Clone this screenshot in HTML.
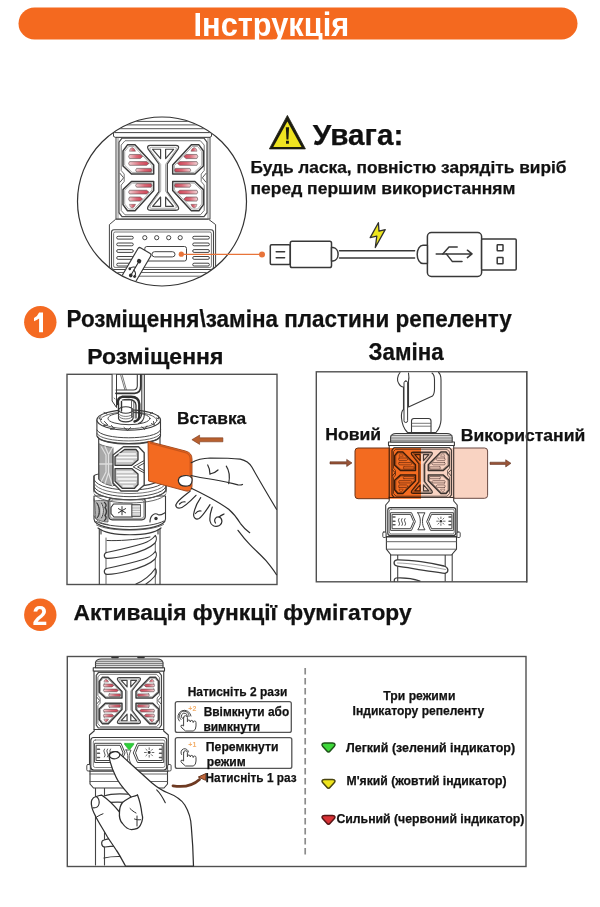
<!DOCTYPE html>
<html><head><meta charset="utf-8">
<style>
html,body{margin:0;padding:0;background:#fff;width:600px;height:907px;overflow:hidden}
svg{display:block}
text{font-family:"Liberation Sans",sans-serif;font-weight:700;stroke:#111;stroke-width:0.25px}
text.w{stroke:none}
text.n{stroke:none}
#grille path,#grille rect{vector-effect:non-scaling-stroke}
</style></head><body>
<svg width="600" height="907" viewBox="0 0 600 907">
<defs>
<linearGradient id="slatg" x1="0" y1="0" x2="1" y2="0">
  <stop offset="0" stop-color="#f3d3d6"/>
  <stop offset="0.55" stop-color="#dc6a78"/>
  <stop offset="1" stop-color="#cf4255"/>
</linearGradient>
<g id="grille">
  <path d="M3,0 H85 L88,4 V76 L85,80 H3 L0,76 V4 Z" fill="#fff" stroke="#4a4a4a" stroke-width="1.2"/>
  <path d="M6,2.6 H81.4 L85.2,7 V33 L82.2,36.6 V44.2 L85.2,47.8 V73.8 L81.4,78.2 H6 L2.2,73.8 V47.8 L5.2,44.2 V36.6 L2.2,33 V7 Z" fill="none" stroke="#666" stroke-width="0.9"/>
  <path d="M0.8,35.6 L4.6,40.4 L0.8,45.2 M87.2,35.6 L83.4,40.4 L87.2,45.2" fill="none" stroke="#555" stroke-width="1"/>
  <g id="wingUL">
    <path d="M8.5,6.8 H16 L34.7,27.4 V36.6 H12.5 L4,28.3 V13 Z" fill="#fff" stroke="#3c3c3c" stroke-width="1.5" stroke-linejoin="round"/>
    <path d="M9.7,8.5 H15.2 L33,28 V34.9 H13.2 L5.7,27.6 V13.6 Z" fill="none" stroke="#8a8a8a" stroke-width="0.7" stroke-linejoin="round"/>
    <path d="M10.4,13.3 Q10.6,10.2 13.2,9.6 Q15.6,10.2 16.5,13.3 Z" style="fill:var(--slat,url(#slatg))" stroke="#6a5a5c" stroke-width="0.5" color="inherit"/>
    <path d="M10.6,16.6 H21.3 L23.6,18.7 L21.3,20.8 H10.6 Q8.6,18.7 10.6,16.6 Z" style="fill:var(--slat,url(#slatg))" stroke="#5a4a4c" stroke-width="0.6"/>
    <path d="M10.6,23.9 H27.6 L29.9,25.8 L27.6,27.7 H10.6 Q8.6,25.8 10.6,23.9 Z" style="fill:var(--slat,url(#slatg))" stroke="#5a4a4c" stroke-width="0.6"/>
    <path d="M17.6,30.8 H32 Q33.7,32.6 32,34.4 H17.6 Q15.6,32.6 17.6,30.8 Z" style="fill:var(--slat,url(#slatg))" stroke="#5a4a4c" stroke-width="0.6"/>
  </g>
  <use href="#wingUL" transform="translate(0,80.8) scale(1,-1)"/>
  <use href="#wingUL" transform="translate(88.4,0) scale(-1,1)"/>
  <use href="#wingUL" transform="translate(88.4,80.8) scale(-1,-1)"/>
  <path d="M31.5,7.3 H56.7 Q61,7.3 59,11.2 L48.3,26.2 V54.6 L59,69.6 Q61,73.5 56.7,73.5 H31.5 Q27.2,73.5 29.2,69.6 L39.9,54.6 V26.2 L29.2,11.2 Q27.2,7.3 31.5,7.3 Z" fill="#fff" stroke="#444" stroke-width="1.3"/>
  <path d="M32.4,9.3 H55.8 Q58.3,9.3 57.1,11.6 L46.5,26.8 V54 L57.1,69.2 Q58.3,71.5 55.8,71.5 H32.4 Q29.9,71.5 31.1,69.2 L41.7,54 V26.8 L31.1,11.6 Q29.9,9.3 32.4,9.3 Z" fill="none" stroke="#888" stroke-width="0.7"/>
  <path d="M33.6,11.3 H41.6 V20.8 Z M54.6,11.3 H46.6 V20.8 Z M33.6,69.5 H41.6 V60 Z M54.6,69.5 H46.6 V60 Z" fill="#fff" stroke="#444" stroke-width="1.2" stroke-linejoin="round"/>
</g>

</defs>
<!-- title bar -->
<rect x="18.5" y="7.5" width="559" height="32" rx="16" fill="#f4691f"/>
<text class="w" x="193.5" y="35.6" font-size="32.5" fill="#fff" textLength="155.7" lengthAdjust="spacingAndGlyphs">Інструкція</text>

<!-- warning -->
<path d="M287.4,115.4 L305.4,148.9 L269.4,148.9 Z" fill="#1c1c10" stroke="#1c1c10" stroke-width="0.8" stroke-linejoin="round"/>
<path d="M287.4,121.6 L301.5,146.9 L273.3,146.9 Z" fill="#efe421"/>
<path d="M285.8,127.2 H289.1 L288.4,139.6 H286.5 Z M286,140.8 H288.9 V143.8 H286 Z" fill="#1c1c10"/>
<text x="312.8" y="144.7" font-size="30" fill="#111" textLength="90.5" lengthAdjust="spacingAndGlyphs">Увага:</text>
<text x="250.5" y="173.4" font-size="16.8" fill="#111" textLength="316" lengthAdjust="spacingAndGlyphs">Будь ласка, повністю зарядіть виріб</text>
<text x="250.5" y="193.5" font-size="16.8" fill="#111" textLength="265" lengthAdjust="spacingAndGlyphs">перед першим використанням</text>

<!-- circle -->
<clipPath id="cc"><circle cx="162" cy="201.5" r="84"/></clipPath>
<g clip-path="url(#cc)">
  <g stroke="#555" stroke-width="1">
   <line x1="128" y1="121.4" x2="196" y2="121.4"/>
   <line x1="120" y1="124.9" x2="204" y2="124.9"/>
   <line x1="112" y1="128.7" x2="212" y2="128.7"/>
  </g>
  <path d="M113.5,132.6 H211.5 V136.4 L209.5,137.4 H115.5 L113.5,136.4 Z" fill="#fff" stroke="#444" stroke-width="1"/>
  <rect x="116" y="137.4" width="94" height="81.6" fill="#fff" stroke="#444" stroke-width="1"/>
  <line x1="118" y1="137.4" x2="118" y2="219" stroke="#777" stroke-width="0.8"/>
  <line x1="208" y1="137.4" x2="208" y2="219" stroke="#777" stroke-width="0.8"/>
  <use href="#grille" color="#d54a5c" transform="translate(119,138.2) scale(1,0.98)"/>
  <path d="M115.6,219.3 L109.4,224.6 V300 H215.6 V224.6 L208.6,219.3 Z" fill="#fff" stroke="#444" stroke-width="1"/>
  <rect x="111.5" y="229.8" width="102" height="39.7" rx="2.5" fill="#fff" stroke="#444" stroke-width="1.1"/>
  <rect x="113.6" y="232" width="97.8" height="35.4" rx="1.5" fill="none" stroke="#555" stroke-width="0.8"/>
  <g fill="#fff" stroke="#444" stroke-width="1">
    <circle cx="144.8" cy="237.7" r="2.1"/><circle cx="156.7" cy="237.7" r="2.1"/><circle cx="168.7" cy="237.7" r="2.1"/><circle cx="180.2" cy="237.7" r="2.1"/>
    <rect x="116.7" y="236.3" width="16.6" height="2.8" rx="1.4"/>
    <rect x="116.7" y="243" width="16.6" height="2.8" rx="1.4"/>
    <rect x="116.7" y="249.6" width="16.6" height="2.8" rx="1.4"/>
    <rect x="116.7" y="256.5" width="16.6" height="2.8" rx="1.4"/>
    <rect x="116.7" y="263.2" width="16.6" height="2.8" rx="1.4"/>
    <rect x="192.7" y="236.3" width="16.7" height="2.8" rx="1.4"/>
    <rect x="192.7" y="243" width="16.7" height="2.8" rx="1.4"/>
    <rect x="192.7" y="249.6" width="16.7" height="2.8" rx="1.4"/>
    <rect x="192.7" y="256.5" width="16.7" height="2.8" rx="1.4"/>
    <rect x="192.7" y="263.2" width="16.7" height="2.8" rx="1.4"/>
    <rect x="144.8" y="246.5" width="41.7" height="14.5" rx="2"/>
    <rect x="152" y="251.7" width="23" height="5.2" rx="2.6"/>
  </g>
  <line x1="109.4" y1="272.5" x2="215.6" y2="272.5" stroke="#555" stroke-width="0.9"/>
  <line x1="109.4" y1="276.2" x2="215.6" y2="276.2" stroke="#555" stroke-width="0.9"/>
  <g transform="translate(137.1,264.6) rotate(30.4)">
    <rect x="-7.4" y="-16.3" width="14.8" height="34" rx="2.2" fill="#fff" stroke="#3a3a3a" stroke-width="1.2"/>
    <g fill="none" stroke="#2e2e2e" stroke-width="1.1" stroke-linecap="round" stroke-linejoin="round">
      <path d="M0,-3 V12"/>
      <path d="M0,3 C-1.5,3.5 -4,4.5 -4.2,7"/>
      <path d="M0,6.5 C1.5,7 3.8,8 3.8,10.5"/>
    </g>
    <circle cx="0" cy="-4" r="2.2" fill="#2e2e2e"/>
    <circle cx="-4.2" cy="7.3" r="1.4" fill="#2e2e2e"/>
    <rect x="2.6" y="10.2" width="2.6" height="2.6" fill="#2e2e2e"/>
    <circle cx="0" cy="12.5" r="1.9" fill="#2e2e2e"/>
  </g>
  <circle cx="181.3" cy="254.2" r="2.6" fill="#e8743a"/>
</g>
<circle cx="162" cy="201.5" r="84.5" fill="none" stroke="#333" stroke-width="1.2"/>
<line x1="181" y1="254.4" x2="262" y2="254.4" stroke="#e8743a" stroke-width="1.2"/>
<circle cx="262" cy="254.4" r="3" fill="#e8743a"/>


<!-- cable -->
<g fill="#fff" stroke="#383838" stroke-width="1.5" stroke-linejoin="round">
  <rect x="270.3" y="244.8" width="20" height="19.6" rx="1.2"/>
  <rect x="290.3" y="241.2" width="41.2" height="26.3" rx="1.8"/>
  <path d="M331.5,247.5 H333 A5.8,6.8 0 0 1 333,261 H331.5 Z"/>
  <rect x="427.4" y="232.6" width="54.2" height="43.8" rx="4"/>
  <rect x="481.6" y="238.9" width="34.6" height="31.1" rx="1"/>
  <rect x="497.2" y="244.8" width="5.8" height="6" rx="0.5"/>
  <rect x="497.2" y="257.6" width="5.8" height="6.2" rx="0.5"/>
  <path d="M427.4,245.2 H423 A5.8,9.2 0 0 0 423,263.6 H427.4 Z"/>
</g>
<g fill="none" stroke="#383838" stroke-width="1.5" stroke-linecap="round" stroke-linejoin="round">
  <path d="M276.2,251.7 H284.6 M276.2,257.7 H284.6"/>
  <path d="M339.5,250.8 H414.6 M339.5,257.9 H414.6"/>
  <path d="M436.2,253.9 H472 M467.4,250.2 L472,253.9 L467.4,257.6"/>
  <path d="M442.8,253.9 L449,247 H457.2 M446.3,253.9 L452.4,261.6 H462"/>
</g>
<path d="M378.4,222.7 L370.2,237.6 L376.8,236.2 L375.3,247.5 L385.2,229.6 L379,231.1 Z" fill="#ece51e" stroke="#2e2e2e" stroke-width="1.3" stroke-linejoin="round"/>

<!-- section 1 -->
<circle cx="40.3" cy="322.15" r="16.2" fill="#f46a22"/>
<path d="M39.1,312.4 H43 V332.2 H39.1 V318.6 Q36.8,320.4 34,321.2 V317.9 Q37.4,316.4 39.1,312.4 Z" fill="#fff"/>
<text x="66.5" y="327.2" font-size="23.5" fill="#111" textLength="445.3" lengthAdjust="spacingAndGlyphs">Розміщення\заміна пластини репеленту</text>
<text x="87.3" y="363.6" font-size="22.6" fill="#111" textLength="136" lengthAdjust="spacingAndGlyphs">Розміщення</text>
<text x="368.5" y="360.4" font-size="23" fill="#111" textLength="75.2" lengthAdjust="spacingAndGlyphs">Заміна</text>
<rect x="67" y="374.3" width="210" height="210.2" fill="none" stroke="#505050" stroke-width="1.4"/>
<rect x="316.3" y="371.8" width="210.4" height="210" fill="none" stroke="#505050" stroke-width="1.4"/>
<!-- box1 -->
<g id="box1dev" fill="none" stroke="#3a3a3a" stroke-width="1.1" stroke-linejoin="round" stroke-linecap="round">
  <!-- tube -->
  <path d="M99.3,529 V584 M160,529 V584" />
  <path d="M106,538 V584 M155.3,536 V584" stroke="#555" stroke-width="0.9"/>
  <g stroke-width="1.2" fill="#fff">
    <path d="M106.5,552.5 C116,550.5 132,547 143,543.5 C149,541.5 153,538.5 155.3,535.5 C157,537.5 156.5,541 154.5,543.5 C150,548 140,552 128,555 C120,557 112,558.5 107,558.3 C103.5,558 103.5,553.5 106.5,552.5 Z"/>
    <path d="M106.5,568.5 C116,566.5 132,563 143,559.5 C149,557.5 153,554.5 155.3,551.5 C157,553.5 156.5,557 154.5,559.5 C150,564 140,568 128,571 C120,573 112,574.5 107,574.3 C103.5,574 103.5,569.5 106.5,568.5 Z"/>
    <path d="M136,584 C143,581 150,576 155.3,568.5 C157,570.5 156.5,574 154.5,576.5 C152,579.5 149,582 146,584" fill="none"/>
    <path d="M107,540.5 C118,541 135,540 150,537" fill="none" stroke-width="1"/>
  </g>
  <!-- control band -->
  <path d="M94,496 V519 C94,533 165.5,533 165.5,519 V496 Z" fill="#fff"/>
  <path d="M94,499 C94,505 100,508 108,509 M94,516 C97,522 103,524 108,524.5" stroke="#555" stroke-width="0.9"/>
  <path d="M94.5,501 C95,508 96,514 95.5,518 C99,521 104,522 108,522 V501 C103,500.5 98,500 94.5,501 Z" fill="#b8b8b8" stroke="#555" stroke-width="0.8"/>
  <path d="M97,503 C100,507 100,514 97,518 C99.5,516 101,510 97,503 Z M101.5,503 C104,507 104,514 101.5,518" fill="#eee" stroke="#444" stroke-width="1"/>
  <path d="M104.5,502.5 C106.5,504 106.5,506 105,507.5 C106.8,510 106.8,513 105,515.5 C106.5,517 106.5,519 104.5,520.5" stroke="#3a3a3a" stroke-width="1.4"/>
  <path d="M96,521.5 C110,528.5 150,528.5 164,521" stroke="#444" stroke-width="1"/>
  <path d="M96.5,525 C110,532 150,532 163.5,524.5" stroke="#555" stroke-width="0.9"/>
  <path d="M98,528 C110,537 150,537 161,528" stroke-width="1.2"/>
  <path d="M101,530 V534 M158,530 V534"/>
  <rect x="108.8" y="498.2" width="36.5" height="21.6" rx="3.5" fill="#d6d6d6" stroke="#3a3a3a" stroke-width="1.2"/>
  <rect x="110.2" y="500" width="33.6" height="18.3" rx="2.5" fill="#fff" stroke="#777" stroke-width="0.7"/>
  <path d="M113.5,504 H132.2 V517 H114 L111,513.5 V507.5 Z" fill="#fff" stroke="#333" stroke-width="1.1"/>
  <path d="M122,506.6 V514.8 M118.4,508.6 L125.6,512.8 M118.4,512.8 L125.6,508.6" stroke="#333" stroke-width="1"/>
  <rect x="132.2" y="504.5" width="8.3" height="12" fill="#bbb" stroke="#444" stroke-width="0.8"/>
  <path d="M133,506.8 H139.7 M133,509.2 H139.7 M133,511.6 H139.7 M133,514 H139.7" stroke="#fff" stroke-width="0.9"/>
  <path d="M150,522 C150,515 155,512.5 158,514.5 C160.5,516 162.5,514 165.3,512.5" stroke-width="1.2"/>
  <circle cx="156" cy="518.5" r="1.7" fill="#333" stroke="none"/>
  <!-- ring -->
  <path d="M94,476 C94,471 166,471 166,476 V490 C160,503 100,503 94,490 Z" fill="#fff"/>
  <path d="M94,476 V492 M166,476 V492" stroke-width="1.1"/>
  <path d="M94.2,480 C100,493.5 160,493.5 165.8,480" stroke="#4a4a4a" stroke-width="1"/>
  <path d="M94.2,483.5 C100,497 160,497 165.8,483.5" stroke="#666" stroke-width="0.9"/>
  <path d="M94.2,487 C100,500 160,500 165.8,487" stroke="#4a4a4a" stroke-width="1"/>
  <path d="M94.2,490.5 C100,503 160,503 165.8,490.5" stroke="#555" stroke-width="1"/>
  <path d="M94.2,494 C100,506 160,506 165.8,494" stroke="#555" stroke-width="0.9"/>
  <!-- grille cylinder -->
  <path d="M98.7,437 V479 C105,489 155,489 160,479 V437 Z" fill="#fff"/>
  <path d="M99.5,444 C103,446 108,447 113,447.5 V486 C107,485 102,483 99.5,480 Z" fill="#a9a9a9" stroke="#555" stroke-width="0.8"/>
  <path d="M101.5,447 L106,455 V472 L101.5,481 M105,446.5 L108.5,454.5 V472.5 L105,483.5 M108.5,454.5 L112.5,447.5 M108.5,472.5 L112.5,485.5" stroke="#e0e0e0" stroke-width="1.2"/>
  <path d="M100,464 H112.8" stroke="#ddd" stroke-width="1.5"/>
  <path d="M123.5,446.7 H138.5 L144.2,452.7 V485 L137.5,491 H121 L113,483 V455 Z" fill="#fff" stroke="#444" stroke-width="1.4"/>
  <path d="M124.5,449.5 H136 L138,452 V460 L131.8,465.3 H115 V456.8 Z" fill="#c4c4c4" stroke="#3a3a3a" stroke-width="1.3"/>
  <path d="M115,468.6 H131.8 L138,474 V484.5 L134.5,488.3 H122.2 L115,481.3 Z" fill="#c4c4c4" stroke="#3a3a3a" stroke-width="1.3"/>
  <g stroke="#fafafa" stroke-width="1.3">
    <path d="M119,454 H135.5 M117,457.5 H136.5 M117,461 H133 M117,472 H133 M117,475.5 H136.5 M118,479 H136.5 M120,482.5 H135.5 M123,486 H133"/>
  </g>
  <path d="M144,460.6 L133.2,466.9 L144,472.8 M144,463.2 L137.5,466.9 L144,470.6" stroke="#444" stroke-width="1"/>
  <path d="M150.5,446 V480" stroke="#777" stroke-width="0.8"/>
  <!-- cap -->
  <path d="M96.9,420 V436 C100,446 157.5,446 160.5,436 V420 Z" fill="#fff"/>
  <path d="M97,430 C101,440.5 156.5,440.5 160.5,430" stroke="#444" stroke-width="1"/>
  <path d="M97,433.5 C101,443.5 156.5,443.5 160.5,433.5" stroke="#555" stroke-width="0.9"/>
  <path d="M97.5,436.5 C101,446.5 156.5,446.5 160,436.5" stroke="#444" stroke-width="1.1"/>
  <ellipse cx="128.7" cy="420" rx="31.8" ry="10.2" fill="#fff" stroke-width="1.2"/>
  <ellipse cx="128.7" cy="420.3" rx="28.2" ry="8.4" stroke="#555" stroke-width="0.9"/>
  <ellipse cx="129" cy="418.5" rx="21" ry="6.2" stroke="#444" stroke-width="1"/>
  <path d="M104.5,421.5 L107.8,425 L103.5,425.5 M111.5,425.5 L114.5,429 L110.5,429.3 M124,427.5 L127.5,430.5 L130.5,427.5 M142,426.8 L144.5,429.5 L146.8,426 M151.5,423.5 L154.5,425.5 L153.5,421.5 M156.5,418 L159,419 L157.8,415.5 M101,416.5 L98.8,418.5 L101.5,419.5 M104,412.5 L107,414 M152.5,412.5 L150,414" stroke="#444" stroke-width="1"/>
  <!-- knob -->
  <path d="M118.5,410 V418.5 C120,423 131.5,423 133,418.5 V410 Z" fill="#fff"/>
  <ellipse cx="125.8" cy="410" rx="7.2" ry="3.2" fill="#fff"/>
  <path d="M118.5,413.5 C120,417.5 131.5,417.5 133,413.5 M118.5,416 C120,420 131.5,420 133,416" stroke="#555" stroke-width="0.8"/>
  <!-- hook -->
  <path d="M112.1,374.5 V401 L116.5,407.5 V374.5" fill="#fff" stroke-width="1"/>
  <path d="M114.2,398 L115,399" stroke="#555" stroke-width="0.8"/>
  <path d="M120.6,375 L124.8,389.5 M122.2,375 L126.3,389.5" stroke="#555" stroke-width="0.8"/>
  <path d="M116,390 H133.5 Q137,390 137.3,386 V374.8" stroke-width="1.1"/>
  <path d="M116,393.3 H134.5 Q140.8,393 140.8,386 V374.8" stroke="#333" stroke-width="1.8"/>
  <path d="M141.8,374.5 V413 Q141.5,419 136.5,421 M144.3,374.5 V415 Q144,421.5 138.5,423.5" fill="none" stroke-width="1.1"/>
  <path d="M118,404 Q117,398 122,396.8 H131 Q139,397 139.3,404 V416 Q139,420.5 134.5,421.5" fill="none" stroke="#2e2e2e" stroke-width="2.4"/>
  <path d="M122.5,400 Q123.5,399.5 129,399.5 Q135.5,400 136,405 V418" fill="none" stroke="#3a3a3a" stroke-width="1.3"/>
  <path d="M131.5,400 V417 M133.8,401 V418" fill="none" stroke="#555" stroke-width="0.9"/>
  <path d="M118.5,404 V412 M121.5,401.5 V411" stroke="#333" stroke-width="1.4"/>
</g>
<!-- card -->
<path d="M148,441.3 L185.5,451 Q192,452.8 192,459 V486 Q192,492 186,491 L148.6,481 Z" fill="#f36a20" stroke="#9c4418" stroke-width="0.9" stroke-linejoin="round"/>
<path d="M150,443.2 L185.5,452.7 Q190.2,454 190.2,459 V487" fill="none" stroke="#c8561c" stroke-width="1.2"/>
<!-- hand -->
<g fill="none" stroke="#2e2e2e" stroke-width="1.2" stroke-linecap="round" stroke-linejoin="round">
  <path d="M191.3,462.7 C197,459.5 203,458.2 210,458 C222,458 233,458.3 240.3,459.2 C246,460.5 249.5,463 252,467.3 C258,478 268,495 276.5,509.3"/>
  <path d="M191,475.5 C197,477 204,478.3 210,479 C220,480.5 230,483 238,484.8 C240,485.2 241.5,485 242.5,484.5"/>
  <path d="M207.7,465 C209.5,468 210,471 210,474.3 M210,474 C213,473.5 216,472 218,470"/>
  <path d="M226.3,466.2 C229.5,471 230,477 228.7,483.7"/>
  <path d="M183,475.8 C179.5,476.3 177.8,479 178.6,482 C179.5,485 183,486.5 187.5,486 C191.5,485.5 193,481 191.8,478 C190.5,475.8 186,475.3 183,475.8 Z" fill="#fff"/>
  <path d="M191.3,488.3 C197,491 204,494.5 210,497.7 C217,501.5 223,505 228.7,509.3 C233,513 237,518 240.3,523.3 C243,527 246,530 249.7,532.7"/>
  <path d="M190.2,491.1 C186,494.5 180.5,498.5 177.3,502.3 C174.5,505.5 176,508.5 180,508 C184,507.5 190,501.5 196,495.3"/>
  <path d="M179.5,504 C181,502.5 183,501.5 185,501.8"/>
  <path d="M200.7,497.7 C197,503 194.5,509 193.7,514 C193.2,518 196,520 199,518.5 C202.5,516.5 206.5,510 210,504.7"/>
  <path d="M195.5,513.5 C197,511.5 199,510.5 201,511"/>
  <path d="M212.3,507 C210.5,512 209.5,517 210,521 C210.8,525.5 215,527.5 219.5,525.5 C223,523.5 222.5,518 219,517 C215.5,516.5 213.5,520 215.5,523"/>
  <path d="M219,517 C221,515.5 222.5,514.8 224,514"/>
  <path d="M238,530.3 C241.5,535 245.5,540 249.7,544.3 C255,550 261,555 266,560.7 C270,565.5 273.5,570 276.5,574.7"/>
</g>
<!-- arrow -->
<path d="M222.9,437.8 H199.6 V435.1 L191.9,439.7 L199.6,444.4 V441.8 H222.9 Z" fill="#b8602f" stroke="#7a3b1e" stroke-width="0.6" stroke-linejoin="round"/>

<text x="177" y="424.2" font-size="16" fill="#111" textLength="69.2" lengthAdjust="spacingAndGlyphs">Вставка</text>
<!-- box2 -->
<g id="box2dev" fill="none" stroke="#3a3a3a" stroke-width="1.1" stroke-linejoin="round" stroke-linecap="round">
  <!-- tube -->
  <path d="M390.6,554 V581 M397.7,554 V581 M445.2,554 V581 M452.2,554 V581" stroke="#444"/>
  <path d="M397,559.8 C410,559.5 432,563 444,566 C449,567.5 449,572.5 445,573.3 C432,572 410,568 397.5,566.2 C393,565.5 393,560.5 397,559.8 Z" fill="#fff" stroke-width="1.3"/>
  <path d="M397.5,563 C410,563 430,566.5 445.5,569.5" stroke="#666" stroke-width="0.6"/>
  <path d="M396,578 C394,578.5 394,581 394.5,581.3 M396,578 C405,577.5 414,579 420,581" stroke-width="1.2"/>
  <!-- lower band -->
  <path d="M386.4,537 H456.5 V549.2 L451.5,555 H391 L386.4,549.2 Z" fill="#fff"/>
  <path d="M386.4,541.7 H456.5 M386.4,549.2 H456.5" stroke="#555" stroke-width="0.9"/>
  <!-- control section -->
  <path d="M389.2,497 V501 L385.7,505 V536.5 H457.2 V505 L453.7,501 V497 Z" fill="#fff"/>
  <rect x="382.8" y="532" width="3.2" height="5.5" rx="1" fill="#fff" stroke-width="0.9"/>
  <rect x="457" y="532" width="3.2" height="5.5" rx="1" fill="#fff" stroke-width="0.9"/>
  <rect x="387.8" y="507.7" width="68" height="27.7" rx="2.5" fill="#fff" stroke-width="1.2"/>
  <rect x="389.3" y="509.2" width="65" height="24.7" rx="2" stroke="#666" stroke-width="0.8"/>
  <path d="M391,512.7 H411.5 L415.4,521.6 L411.5,530.4 H391 Z M392.5,514.4 H410.5 L413.6,521.6 L410.5,528.7 H392.5 Z" fill="#fff" stroke="#444" stroke-width="1"/>
  <path d="M453,512.7 H430.5 L426.7,521.6 L430.5,530.4 H453 Z M451.5,514.4 H431.5 L428.5,521.6 L431.5,528.7 H451.5 Z" fill="#fff" stroke="#444" stroke-width="1"/>
  <path d="M417.8,512.8 H425 C423,516 422.5,518 422.5,521.2 C422.5,524.5 423,527 425,529.8 H417.8 C419.8,527 420.3,524.5 420.3,521.2 C420.3,518 419.8,516 417.8,512.8 Z" fill="#fff" stroke="#444" stroke-width="1"/>
  <path d="M399,518.5 Q397.6,520.3 399,522 Q400.4,523.8 399,525.5 M402,518.5 Q400.6,520.3 402,522 Q403.4,523.8 402,525.5 M405,518.5 Q403.6,520.3 405,522 Q406.4,523.8 405,525.5" stroke="#444" stroke-width="0.9"/>
  <circle cx="440.9" cy="521.2" r="1.3" fill="#333" stroke="none"/>
  <path d="M440.9,517 V518.6 M440.9,523.8 V525.4 M436.7,521.2 H438.3 M443.5,521.2 H445.1 M437.9,518.2 L439,519.3 M442.8,523.1 L443.9,524.2 M443.9,518.2 L442.8,519.3 M439,523.1 L437.9,524.2" stroke="#444" stroke-width="0.8"/>
  <path d="M393,517 H395 M393,521.2 H395 M393,524.8 H395 M449,517 H451 M449,521.2 H451 M449,524.8 H451" stroke="#555" stroke-width="1.4"/>
  <!-- body -->
  <rect x="389.2" y="445.5" width="64.5" height="52" fill="#fff"/>
  <use href="#grille" style="--slat:#f4f4f4" transform="translate(392,447.7) scale(0.676,0.62)"/>
  <!-- cap -->
  <rect x="388.5" y="442" width="65.9" height="3.5" fill="#fff"/>
  <path d="M390.6,442 V437 Q391.5,433.5 396,433.5 H447 Q451.5,433.5 452.2,437 V442 Z" fill="#e2e2e2"/>
  <path d="M391,435.6 H452 M390.8,438 H452 M390.8,440.2 H452" stroke="#555" stroke-width="0.8"/>
  <!-- hook -->
  <path d="M400,372.5 C397,376 397,381 398.5,383 C400,386 402,387 403.5,387 V409.5 C401.5,411 401.3,415 401.5,418 C402,424 404,429 407.5,432.5 H436 C439,429 440.8,425 441,420 V380 C441,376 440.5,374 438.5,372.5" fill="#fff"/>
  <path d="M408.5,373 C409,376 409,379 408.5,381 V407 L432.5,396 C434,394.5 434.5,391 434.5,389 V380 C434.5,376.5 433.5,374 432,373" stroke-width="1.1"/>
  <rect x="404" y="381" width="3.6" height="41.5" rx="1.8" fill="#fff" stroke-width="1"/>
  <path d="M411.5,432 V421 Q411.5,418.5 414,418.5 H428.5 Q431,418.5 431,421 V432" fill="#fff"/>
  <path d="M411.8,423.3 H430.7 M411.8,426.2 H430.7" stroke="#555" stroke-width="0.8"/>
</g>
<!-- cards over device -->
<g style="mix-blend-mode:multiply">
  <path d="M421,448 H358 Q355,448 355,451 V495.7 Q355,498.7 358,498.7 H421 Z" fill="#f36b20"/>
  <path d="M421,448 H484.6 Q487.6,448 487.6,451 V495.3 Q487.6,498.3 484.6,498.3 H421 Z" fill="#f9d3c2"/>
</g>
<path d="M389.5,448 H358 Q355,448 355,451 V495.7 Q355,498.7 358,498.7 H389.5" fill="none" stroke="#6e3518" stroke-width="1"/>
<path d="M453.5,448 H484.6 Q487.6,448 487.6,451 V495.3 Q487.6,498.3 484.6,498.3 H453.5" fill="none" stroke="#6a4a44" stroke-width="1"/>
<!-- arrows -->
<path d="M330,461.8 H346.7 V459.4 L352,462.9 L346.7,466.5 V464 H330 Z" fill="#9a5538" stroke="#5e3020" stroke-width="0.6" stroke-linejoin="round"/>
<path d="M490,462.2 H505.7 V459.8 L511,463.3 L505.7,466.9 V464.4 H490 Z" fill="#9a5538" stroke="#5e3020" stroke-width="0.6" stroke-linejoin="round"/>

<text x="325.2" y="440.4" font-size="15.6" fill="#111" textLength="56" lengthAdjust="spacingAndGlyphs">Новий</text>
<text x="460.8" y="440.5" font-size="16" fill="#111" textLength="124.5" lengthAdjust="spacingAndGlyphs">Використаний</text>
<line x1="526.7" y1="371.1" x2="526.7" y2="582.5" stroke="#505050" stroke-width="1.4"/>

<!-- section 2 -->
<circle cx="40.3" cy="614.7" r="16.2" fill="#f46a22"/>
<text class="w" x="32.6" y="624.9" font-size="28.5" fill="#fff" textLength="14.8" lengthAdjust="spacingAndGlyphs">2</text>
<text x="73.5" y="619.6" font-size="22.8" fill="#111" textLength="338.1" lengthAdjust="spacingAndGlyphs">Активація функції фумігатору</text>
<rect x="67.3" y="656.5" width="458.7" height="210" fill="none" stroke="#505050" stroke-width="1.4"/>
<line x1="305.2" y1="668.1" x2="305.2" y2="854.5" stroke="#8c8c8c" stroke-width="1.7" stroke-dasharray="6.3,3.7"/>
<!-- box3 -->
<g id="box3dev" fill="none" stroke="#3a3a3a" stroke-width="1.1" stroke-linejoin="round" stroke-linecap="round">
  <!-- tube -->
  <path d="M95.5,787 V865 M104.5,787 V865 M150,787 V865 M159,787 V865" stroke="#444"/>
  <path d="M104,796 C115,792 140,794 152,799 C156,801 155,805 151,804.5 C138,803 115,801 105,803 C101,803 100.5,797 104,796 Z" fill="#fff" stroke-width="1.2"/>
  <path d="M104,818 C115,814 140,816 152,821 C156,823 155,827 151,826.5 C138,825 115,823 105,825 C101,825 100.5,819 104,818 Z" fill="#fff" stroke-width="1.2"/>
  <path d="M104,840 C115,836 140,838 152,843 C156,845 155,849 151,848.5 C138,847 115,845 105,847 C101,847 100.5,841 104,840 Z" fill="#fff" stroke-width="1.2"/>
  <path d="M104,858 C112,856 125,856 132,858" stroke-width="1.2"/>
  <!-- lower band -->
  <path d="M90,771 H167.5 V784 L164,788 H93.5 L90,784 Z" fill="#fff"/>
  <path d="M90,774 H167.5 M90,781.5 H167.5" stroke="#555" stroke-width="0.9"/>
  <!-- control section -->
  <path d="M94.2,729.5 V731 L89.5,735 V771 H168.3 V735 L163.7,731 V729.5 Z" fill="#fff"/>
  <rect x="86.8" y="764.5" width="3.5" height="6.5" rx="1.2" fill="#fff" stroke-width="0.9"/>
  <rect x="167.6" y="764.5" width="3.5" height="6.5" rx="1.2" fill="#fff" stroke-width="0.9"/>
  <rect x="90.8" y="737.5" width="75.9" height="32.5" rx="3" fill="#fff" stroke-width="1.2"/>
  <rect x="93.3" y="740" width="71.7" height="27.5" rx="2" stroke="#666" stroke-width="0.8"/>
  <path d="M95,743.3 H121 L125,752.9 L121,762.5 H95 Z M96.5,745.3 H120 L123,752.9 L120,760.5 H96.5 Z" fill="#fff" stroke="#444" stroke-width="1"/>
  <path d="M163.3,743.3 H137.5 L133.3,752.9 L137.5,762.5 H163.3 Z M161.8,745.3 H138.5 L135.5,752.9 L138.5,760.5 H161.8 Z" fill="#fff" stroke="#444" stroke-width="1"/>
  <path d="M126,750 H131 C129.5,753 129.2,755 129.2,757 C129.2,759 129.5,761 131,764 H126 C127.5,761 127.8,759 127.8,757 C127.8,755 127.5,753 126,750 Z" fill="#fff" stroke="#444" stroke-width="0.9"/>
  <path d="M104.5,749 Q103,751 104.5,753 Q106,755 104.5,757 M107.5,749 Q106,751 107.5,753 Q109,755 107.5,757 M110.5,749 Q109,751 110.5,753 Q112,755 110.5,757" stroke="#444" stroke-width="0.9"/>
  <circle cx="149.2" cy="752.5" r="1.4" fill="#333" stroke="none"/>
  <path d="M149.2,747.8 V749.6 M149.2,755.4 V757.2 M144.5,752.5 H146.3 M152.1,752.5 H153.9 M145.9,749.2 L147.1,750.4 M151.3,754.6 L152.5,755.8 M152.5,749.2 L151.3,750.4 M147.1,754.6 L145.9,755.8" stroke="#444" stroke-width="0.8"/>
  <path d="M97.5,749.2 H99.5 M97.5,753.3 H99.5 M97.5,757.5 H99.5 M159.5,749.2 H161.5 M159.5,753.3 H161.5 M159.5,757.5 H161.5" stroke="#555" stroke-width="1.5"/>
  <path d="M123.5,742.5 H135 L129.2,751 Z" fill="#bff5bf" stroke="none" opacity="0.8"/>
  <path d="M125,743.6 H133.4 Q134.3,743.6 133.7,744.5 L129.9,749.3 Q129.2,750 128.5,749.3 L124.7,744.5 Q124.1,743.6 125,743.6 Z" fill="#2ed03a" stroke="#23a82e" stroke-width="0.6"/>
  <!-- body -->
  <rect x="94" y="671" width="69.75" height="58.5" fill="#fff"/>
  <use href="#grille" color="#d54a5c" transform="translate(96.25,672.5) scale(0.741,0.694)"/>
  <!-- cap -->
  <rect x="93.25" y="667.7" width="71.25" height="3.3" fill="#fff"/>
  <path d="M95.5,667.7 V662.5 Q96.5,659 101,659 H157.5 Q162,659 163,662.5 V667.7 Z" fill="#e2e2e2"/>
  <path d="M96,661.3 H162.5 M95.6,663.4 H162.9 M95.6,665.4 H162.9" stroke="#555" stroke-width="0.8"/>
  <path d="M112,657.5 H118 M138,657.5 H144" stroke="#333" stroke-width="1.6"/>
</g>
<!-- hand -->
<g fill="#fff" stroke="#2e2e2e" stroke-width="1.25" stroke-linejoin="round" stroke-linecap="round">
  <path d="M109,756 C108.5,753 112,750.8 117.7,751.9 C125,759 140,772 152.3,783.3 C158,788 163,791 167,792.5 C175,795.5 181,799 184.8,805 C189,812 191,820 191.3,826.7 C192.5,840 193.2,852 193.5,866 H125.5 C121,858 118.5,853 116.5,850.5 C113,845 110,841 107.5,837 C103,829 99,823 97,819 C94.5,814 92,810 91.75,806.25 C90.5,801 92,797.5 96.25,796.5 C98,795.8 100,795 101.5,795 C106,798 113,804 119.5,812 C119.5,808 120.5,805 122.5,802.5 C125.5,800 128.5,798.5 131,797 C125,790 119,784 116,777 C112.5,770 110,763 109,756 Z"/>
  <path d="M119.5,812 C119,817 120,821 122.5,823.5 C125,827 128.5,829.5 131.5,829.5 C136,829.5 139.5,827.5 140.5,825 C142.5,821 143,817 142,814.5 C141,806 139.5,800 137.5,795" fill="none"/>
  <path d="M131,797 C133,796.5 135.5,796 137.5,795" fill="none"/>
  <path d="M130,808.5 C132,810.5 134,812 136,813 M134.5,819 C136.5,819.8 138.5,820 140.5,819.7 M137,816 V826" fill="none" stroke-width="1"/>
  <path d="M96.25,796.5 C98.5,798 99.5,801 99,804 C98.5,806.5 96,808 93,807.8" fill="none" stroke-width="1.1"/>
  <path d="M97,816.75 C99,815.5 101,814.5 103,813.75" fill="none" stroke-width="1"/>
  <path d="M156.7,789.8 C160,793 163,798 165.3,802.8" fill="none" stroke-width="1.1"/>
  <path d="M109.6,754.5 C111.5,751.5 116,750.8 118.8,752.8 C120.6,754.5 120,757.5 116.5,758.5 C112.5,759.5 108.5,757.5 109.6,754.5 Z" fill="#fff"/>
</g>
<!-- curved arrow -->
<path d="M173,785.8 C183,787.5 193,785.5 199.5,779.5" fill="none" stroke="#6e3a22" stroke-width="2.8" stroke-linecap="round"/>
<path d="M206,773.5 L198.3,777 L205.6,780.3 Z" fill="#c0663a" stroke="#6e3a22" stroke-width="1" stroke-linejoin="round"/>
<!-- buttons -->
<rect x="175.3" y="701.6" width="116" height="30.8" rx="2" fill="none" stroke="#555" stroke-width="1.3"/>
<rect x="175.3" y="737.6" width="116.5" height="30.8" rx="2" fill="none" stroke="#555" stroke-width="1.3"/>
<g fill="none" stroke="#444" stroke-width="1" stroke-linecap="round">
  <path d="M181,719.5 A4.8,4.8 0 1 1 189,716.5"/>
  <path d="M182.5,718.5 A3,3 0 1 1 187.3,716.6"/>
  <path d="M179.3,721 A6.6,6.6 0 1 1 191,716"/>
  <path d="M183.6,717.5 V726 Q182,724.5 181,725.5 Q180.5,726.5 182,728 L185.5,731 H193.5 Q196,729.5 196,726 V722.5 Q196,721 194.6,721 Q193.2,721 193.2,722.5 Q193.2,720.4 191.7,720.4 Q190.3,720.4 190.3,722 Q190.3,720 188.8,720 Q187.4,720 187.4,721.8 V717.5 Q187.4,715.7 185.5,715.7 Q183.6,715.7 183.6,717.5 Z"/>
  <path d="M181.5,754.5 A3.8,3.8 0 1 1 188.5,752"/>
  <path d="M183.6,752.5 V761 Q182,759.5 181,760.5 Q180.5,761.5 182,763 L185.5,766 H193.5 Q196,764.5 196,761 V757.5 Q196,756 194.6,756 Q193.2,756 193.2,757.5 Q193.2,755.4 191.7,755.4 Q190.3,755.4 190.3,757 Q190.3,755 188.8,755 Q187.4,755 187.4,756.8 V752.5 Q187.4,750.7 185.5,750.7 Q183.6,750.7 183.6,752.5 Z"/>
</g>
<text class="n" x="188.3" y="710.8" font-size="7" font-weight="400" fill="#f2ae6a">+2</text>
<text class="n" x="188.3" y="746.8" font-size="7" font-weight="400" fill="#f2ae6a">+1</text>
<text x="187.7" y="695.7" font-size="13" fill="#111" textLength="99.7" lengthAdjust="spacingAndGlyphs">Натисніть 2 рази</text>
<text x="203.7" y="716.4" font-size="12.4" fill="#111" textLength="85.5" lengthAdjust="spacingAndGlyphs">Ввімкнути або</text>
<text x="203.4" y="730.7" font-size="12.2" fill="#111" textLength="56.8" lengthAdjust="spacingAndGlyphs">вимкнути</text>
<text x="205.8" y="751.3" font-size="12.2" fill="#111" textLength="72.7" lengthAdjust="spacingAndGlyphs">Перемкнути</text>
<text x="206.8" y="765.8" font-size="12.2" fill="#111" textLength="39" lengthAdjust="spacingAndGlyphs">режим</text>
<text x="205.5" y="782.3" font-size="12.5" fill="#111" textLength="91" lengthAdjust="spacingAndGlyphs">Натисніть 1 раз</text>
<!-- legend -->
<text x="383.3" y="700.1" font-size="13.4" fill="#111" textLength="72.1" lengthAdjust="spacingAndGlyphs">Три режими</text>
<text x="352.6" y="714.7" font-size="13.4" fill="#111" textLength="131.7" lengthAdjust="spacingAndGlyphs">Індикатору репеленту</text>
<path d="M324.5,743.1 H332.5 C335.6,743.1 335.3,745.2 334.2,746.4000000000001 L330.1,751.0 C329.2,752.3000000000001 327.8,752.3000000000001 326.9,751.0 L322.8,746.4000000000001 C321.7,745.2 321.4,743.1 324.5,743.1 Z" fill="#3ed83a" stroke="#1e5418" stroke-width="1.5" stroke-linejoin="round"/>
<path d="M324.5,779.4 H332.5 C335.6,779.4 335.3,781.5 334.2,782.7 L330.1,787.3 C329.2,788.6 327.8,788.6 326.9,787.3 L322.8,782.7 C321.7,781.5 321.4,779.4 324.5,779.4 Z" fill="#eee41c" stroke="#4a4510" stroke-width="1.5" stroke-linejoin="round"/>
<path d="M324.5,815.4 H332.5 C335.6,815.4 335.3,817.5 334.2,818.7 L330.1,823.3 C329.2,824.6 327.8,824.6 326.9,823.3 L322.8,818.7 C321.7,817.5 321.4,815.4 324.5,815.4 Z" fill="#d93236" stroke="#561616" stroke-width="1.5" stroke-linejoin="round"/>
<text x="346" y="751.8" font-size="12.6" fill="#111" textLength="169.1" lengthAdjust="spacingAndGlyphs">Легкий (зелений індикатор)</text>
<text x="346.5" y="785" font-size="12.6" fill="#111" textLength="160" lengthAdjust="spacingAndGlyphs">М'який (жовтий індикатор)</text>
<text x="336.4" y="823" font-size="12.6" fill="#111" textLength="188" lengthAdjust="spacingAndGlyphs">Сильний (червоний індикатор)</text>

</svg>
</body></html>
